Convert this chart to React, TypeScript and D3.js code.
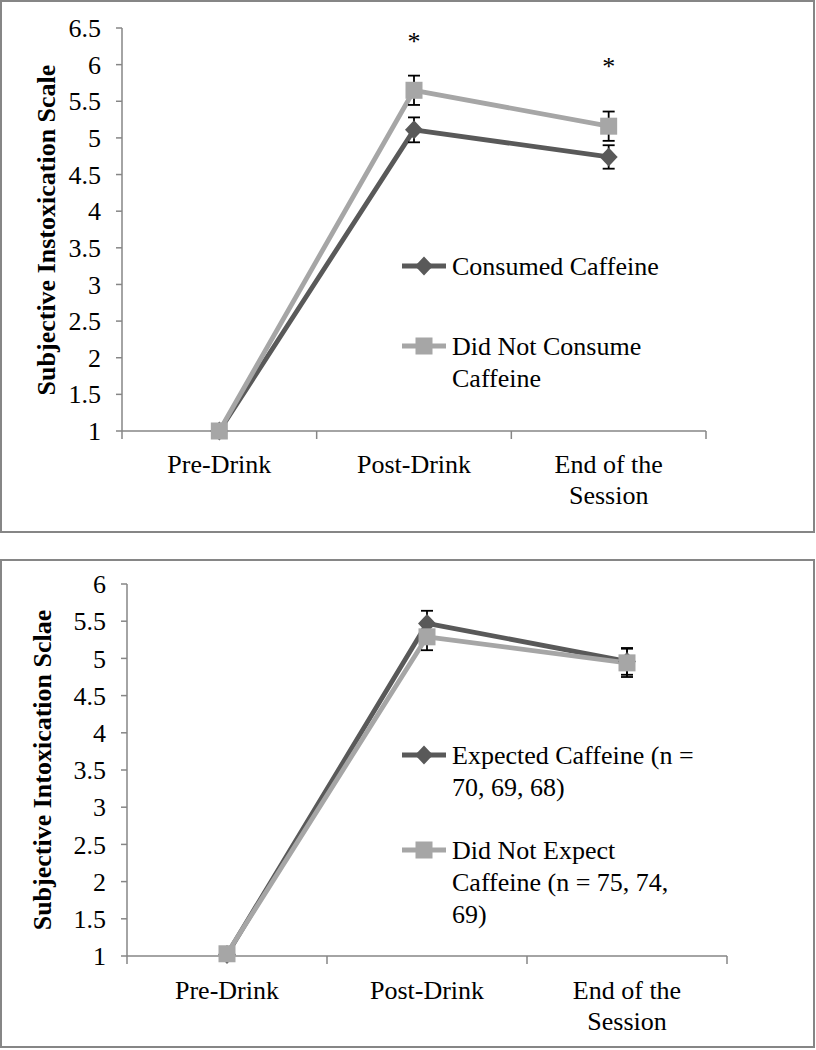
import React from 'react';
import * as d3 from 'd3';

const categories = ['Pre-Drink', 'Post-Drink', 'End of the Session'];
const categoryLines = [['Pre-Drink'], ['Post-Drink'], ['End of the', 'Session']];

// top panel
const consumedMeans = [1, 5.11, 4.74];
const consumedErr = [0, 0.17, 0.16];
const notConsumedMeans = [1, 5.65, 5.16];
const notConsumedErr = [0, 0.2, 0.2];
const topTicks = [1, 1.5, 2, 2.5, 3, 3.5, 4, 4.5, 5, 5.5, 6, 6.5];
const topStars = [{ cat: 'Post-Drink', value: 6.47 }, { cat: 'End of the Session', value: 6.13 }];

// bottom panel
const expectedMeans = [1.02, 5.47, 4.96];
const expectedErr = [0, 0.17, 0.18];
const notExpectedMeans = [1.03, 5.29, 4.94];
const notExpectedErr = [0, 0.18, 0.19];
const bottomTicks = [1, 1.5, 2, 2.5, 3, 3.5, 4, 4.5, 5, 5.5, 6];

const DARK = '#595959';
const LIGHT = '#a6a6a6';
const AXIS = '#868686';
const FONT = '"Liberation Serif", "Times New Roman", serif';

type Series = { name: string[]; means: number[]; err: number[]; color: string; marker: 'diamond' | 'square' };

const Marker = ({ x, y, kind, color }: { x: number; y: number; kind: string; color: string }) =>
  kind === 'square'
    ? <rect x={x - 8.5} y={y - 8.5} width={17} height={17} fill={color} />
    : <path d={`M${x},${y - 9.5}L${x + 9},${y}L${x},${y + 9.5}L${x - 9},${y}Z`} fill={color} />;

const Panel = (props: {
  box: [number, number, number, number];
  x0: number; x1: number; yTop: number; yBot: number;
  domain: [number, number]; ticks: number[];
  title: string; titleX: number; titleY: number;
  series: Series[]; legendY: number[];
  stars?: { cat: string; value: number }[];
  labelY: number;
}) => {
  const { box, x0, x1, yTop, yBot, domain, ticks, series } = props;
  const x = d3.scaleBand().domain(categories).range([x0, x1]).padding(0);
  const cx = (c: string) => (x(c) as number) + x.bandwidth() / 2;
  const y = d3.scaleLinear().domain(domain).range([yBot, yTop]);
  const line = d3.line<number>().x((_, i) => cx(categories[i])).y(d => y(d));
  const edges = [...categories.map(c => x(c) as number), x1];

  return (
    <g>
      <rect x={box[0]} y={box[1]} width={box[2]} height={box[3]} fill="#fff" stroke={AXIS} strokeWidth={2} />
      {/* y axis */}
      <line x1={x0} x2={x0} y1={yTop} y2={yBot} stroke={AXIS} strokeWidth={1.5} />
      {ticks.map(t => (
        <g key={t}>
          <line x1={x0 - 6} x2={x0} y1={y(t)} y2={y(t)} stroke={AXIS} strokeWidth={1.5} />
          <text x={x0 - 21} y={y(t)} dy="0.35em" textAnchor="end" fontSize={26} fontFamily={FONT} fill="#000">{t}</text>
        </g>
      ))}
      {/* x axis */}
      <line x1={x0} x2={x1} y1={yBot} y2={yBot} stroke={AXIS} strokeWidth={1.5} />
      {edges.map((e, i) => (
        <line key={i} x1={e} x2={e} y1={yBot} y2={yBot + 8} stroke={AXIS} strokeWidth={1.5} />
      ))}
      {categories.map((c, i) => (
        <text key={c} x={cx(c)} y={props.labelY} textAnchor="middle" fontSize={26} fontFamily={FONT} fill="#000">
          {categoryLines[i].map((l, j) => <tspan key={j} x={cx(c)} dy={j === 0 ? 0 : 31}>{l}</tspan>)}
        </text>
      ))}
      <text transform={`translate(${props.titleX},${props.titleY}) rotate(-90)`} textAnchor="middle" dy="0.35em"
        fontSize={26} fontWeight="bold" fontFamily={FONT} fill="#000">{props.title}</text>

      {/* series */}
      {series.map(s => (
        <path key={s.color} d={line(s.means) as string} fill="none" stroke={s.color} strokeWidth={4.8} strokeLinejoin="round" />
      ))}
      {series.map(s => (
        <g key={'e' + s.color}>
          {s.means.map((m, i) => s.err[i] > 0 && (
            <g key={i} stroke="#000" strokeWidth={1.8}>
              <line x1={cx(categories[i])} x2={cx(categories[i])} y1={y(m + s.err[i])} y2={y(m - s.err[i])} />
              <line x1={cx(categories[i]) - 6} x2={cx(categories[i]) + 6} y1={y(m + s.err[i])} y2={y(m + s.err[i])} />
              <line x1={cx(categories[i]) - 6} x2={cx(categories[i]) + 6} y1={y(m - s.err[i])} y2={y(m - s.err[i])} />
            </g>
          ))}
        </g>
      ))}
      {series.map(s => (
        <g key={'m' + s.color}>
          {s.means.map((m, i) => <Marker key={i} x={cx(categories[i])} y={y(m)} kind={s.marker} color={s.color} />)}
        </g>
      ))}
      {(props.stars || []).map(st => (
        <text key={st.cat} x={cx(st.cat)} y={y(st.value)} dy="0.75em" textAnchor="middle" fontSize={26} fontFamily={FONT} fill="#000">*</text>
      ))}

      {/* legend */}
      {series.map((s, k) => (
        <g key={'l' + s.color}>
          <line x1={402} x2={446} y1={props.legendY[k]} y2={props.legendY[k]} stroke={s.color} strokeWidth={4.8} />
          <Marker x={424} y={props.legendY[k]} kind={s.marker} color={s.color} />
          <text x={452} y={props.legendY[k]} dy="0.35em" fontSize={26} fontFamily={FONT} fill="#000">
            {s.name.map((l, j) => <tspan key={j} x={452} dy={j === 0 ? '0.35em' : 32}>{l}</tspan>)}
          </text>
        </g>
      ))}
    </g>
  );
};

export default function App() {
  return (
    <svg width={816} height={1050} style={{ position: 'absolute', left: 0, top: 0, background: '#fff' }}>
      <Panel
        box={[1, 1, 813, 531]} x0={122} x1={706} yTop={28} yBot={431} domain={[1, 6.5]} ticks={topTicks}
        title="Subjective Instoxication Scale" titleX={46} titleY={230}
        series={[
          { name: ['Consumed Caffeine'], means: consumedMeans, err: consumedErr, color: DARK, marker: 'diamond' },
          { name: ['Did Not Consume', 'Caffeine'], means: notConsumedMeans, err: notConsumedErr, color: LIGHT, marker: 'square' },
        ]}
        legendY={[266, 346]} stars={topStars} labelY={473}
      />
      <Panel
        box={[1, 560, 813, 487]} x0={127} x1={727} yTop={584} yBot={956} domain={[1, 6]} ticks={bottomTicks}
        title="Subjective Intoxication Sclae" titleX={42} titleY={770}
        series={[
          { name: ['Expected Caffeine (n =', '70, 69, 68)'], means: expectedMeans, err: expectedErr, color: DARK, marker: 'diamond' },
          { name: ['Did Not Expect', 'Caffeine (n = 75, 74,', '69)'], means: notExpectedMeans, err: notExpectedErr, color: LIGHT, marker: 'square' },
        ]}
        legendY={[755, 850]} labelY={999}
      />
    </svg>
  );
}
